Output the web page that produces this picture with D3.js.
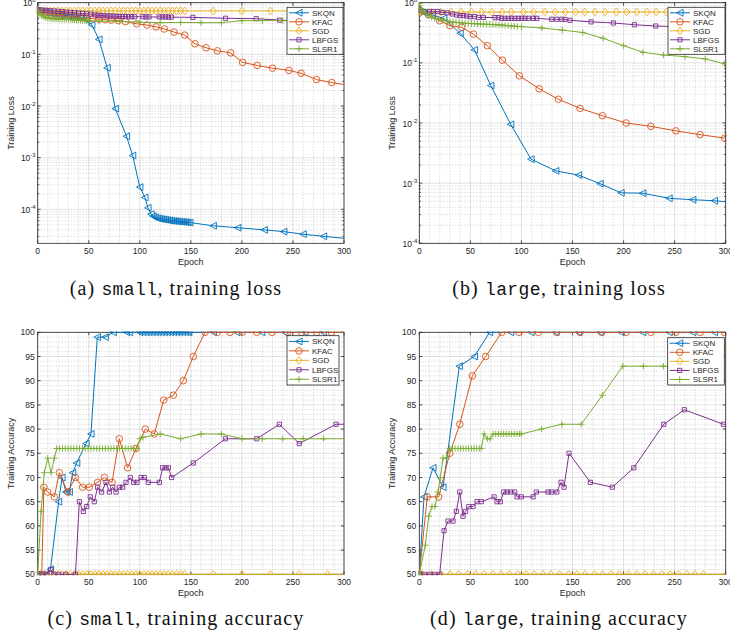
<!DOCTYPE html>
<html>
<head>
<meta charset="utf-8">
<script src="https://cdn.jsdelivr.net/npm/d3@7"></script>
<style>
  body { margin: 0; background: #fff; }
  svg { display: block; font-family: "Liberation Sans", Arial, Helvetica, sans-serif; }
</style>
</head>
<body>
<div id="chart"></div>
<script>
const methods = ['SKQN', 'KFAC', 'SGD', 'LBFGS', 'SLSR1'];
const methodColors = ['#0072BD', '#D95319', '#EDB120', '#7E2F8E', '#77AC30'];
const methodMarkers = ['<', 'o', 'd', 's', '+'];

const epochTicks = [0, 50, 100, 150, 200, 250, 300];
const lossTicks = [1e-4, 1e-3, 1e-2, 1e-1, 1];
const accTicks = [50, 55, 60, 65, 70, 75, 80, 85, 90, 95, 100];

// (a) small, training loss  -- [epoch, loss]
const smallLossSKQN = [[0,0.70],[3,0.68],[6,0.66],[9,0.645],[12,0.63],[15,0.61],[18,0.60],[21,0.59],[24,0.58],[27,0.57],[30,0.56],[33,0.55],[36,0.54],[39,0.53],[42,0.52],[45,0.50],[48,0.46],[53,0.37],[60,0.195],[68,0.055],[76,0.0089],[87,0.0026],[93,0.0011],[100,2.7e-4],[105,1.7e-4],[108,1.07e-4],[111,8.1e-5],[113,7.4e-5],[115,7.0e-5],[117,6.8e-5],[119,6.6e-5],[121,6.5e-5],[123,6.4e-5],[125,6.3e-5],[127,6.2e-5],[129,6.1e-5],[131,6.0e-5],[133,5.95e-5],[135,5.9e-5],[137,5.85e-5],[139,5.8e-5],[141,5.75e-5],[143,5.7e-5],[145,5.65e-5],[147,5.6e-5],[149,5.55e-5],[172,4.8e-5],[196,4.4e-5],[222,4.0e-5],[241,3.7e-5],[260,3.3e-5],[280,3.0e-5],[300,2.75e-5]];
const smallLossKFAC = [[0,0.70],[4,0.66],[8,0.63],[13,0.60],[18,0.58],[23,0.56],[28,0.54],[33,0.53],[38,0.52],[43,0.51],[48,0.50],[54,0.49],[60,0.48],[66,0.47],[72,0.46],[79,0.45],[86,0.43],[97,0.39],[107,0.37],[116,0.34],[124,0.31],[133.5,0.27],[144,0.236],[154,0.16],[165,0.134],[176,0.117],[189,0.107],[200.7,0.07],[215,0.061],[230,0.054],[246,0.049],[258,0.043],[273,0.0325],[288,0.0284],[300,0.026]];
const smallLossSGD = [[0,0.70],[4,0.695],[8,0.694],[12,0.693],[16,0.693],[20,0.693],[24,0.693],[28,0.693],[32,0.693],[36,0.693],[40,0.693],[44,0.693],[48,0.693],[52,0.693],[56,0.693],[60,0.693],[64,0.693],[68,0.693],[72,0.693],[76,0.693],[80,0.693],[84,0.693],[88,0.693],[92,0.693],[96,0.693],[100,0.693],[104,0.693],[108,0.693],[112,0.693],[116,0.693],[120,0.693],[124,0.693],[128,0.693],[132,0.693],[136,0.693],[140,0.693],[144,0.693],[172,0.693],[200,0.693],[228,0.693],[256,0.693],[284,0.693],[300,0.693]];
const smallLossLBFGS = [[0,0.74],[4,0.72],[8,0.71],[12,0.70],[16,0.69],[20,0.68],[24,0.67],[28,0.66],[32,0.65],[36,0.64],[40,0.63],[44,0.62],[48,0.61],[52,0.60],[56,0.58],[59,0.57],[62,0.565],[65,0.56],[68,0.555],[71,0.55],[74,0.55],[77,0.545],[80,0.54],[83,0.54],[86,0.54],[89,0.535],[92,0.535],[95,0.535],[103,0.535],[106,0.53],[109,0.53],[119,0.53],[122,0.53],[125,0.53],[128,0.525],[131,0.525],[152,0.52],[184,0.50],[214,0.49],[237,0.46],[262,0.44],[300,0.40]];
const smallLossSLSR1 = [[0,0.72],[2,0.62],[4,0.56],[6,0.53],[8,0.51],[10,0.50],[12,0.495],[14,0.49],[16,0.487],[18,0.485],[20,0.482],[22,0.48],[24,0.478],[26,0.476],[28,0.475],[30,0.473],[32,0.47],[34,0.468],[36,0.465],[38,0.462],[40,0.46],[42,0.458],[44,0.455],[46,0.453],[48,0.45],[50,0.448],[60,0.44],[80,0.435],[100,0.42],[120,0.41],[140,0.415],[160,0.41],[180,0.41],[200,0.45],[220,0.45],[240,0.45],[260,0.44],[280,0.43],[300,0.42]];

// (b) large, training loss
const largeLossSKQN = [[0,0.72],[5,0.68],[13,0.62],[24,0.55],[40,0.31],[54,0.164],[70,0.042],[89.5,0.0095],[109.4,0.0025],[133.6,0.0016],[156,0.00136],[177,0.00098],[197.6,0.00069],[218.8,0.00068],[244.6,0.00056],[267.8,0.00053],[289,0.00051],[300,0.00049]];
const largeLossKFAC = [[0,0.72],[9,0.625],[20,0.50],[30,0.415],[41.5,0.39],[53,0.30],[66.6,0.193],[81.3,0.111],[98,0.061],[117.3,0.037],[136.2,0.0248],[157.4,0.0175],[179.3,0.0132],[202.5,0.0100],[226.7,0.0088],[251.2,0.0074],[275,0.0064],[299,0.0056]];
const largeLossSGD = [[0,0.72],[2,0.70],[12,0.70],[21,0.70],[31,0.70],[41,0.70],[51,0.70],[61,0.70],[71,0.70],[81,0.70],[90,0.70],[102,0.70],[112,0.70],[123,0.70],[133,0.70],[143,0.70],[153,0.70],[162,0.70],[172,0.70],[182,0.70],[193,0.70],[203,0.70],[213,0.70],[223,0.70],[232,0.70],[242,0.70],[252,0.70],[262,0.70],[272,0.70],[282,0.70],[292,0.70],[300,0.70]];
const largeLossLBFGS = [[0,0.78],[4.9,0.71],[9.8,0.71],[13.7,0.71],[18,0.71],[22.5,0.69],[27.4,0.68],[32.4,0.65],[36.6,0.625],[39.9,0.61],[43.1,0.61],[46.4,0.60],[49.7,0.586],[53.9,0.586],[57.9,0.57],[62.7,0.57],[74.1,0.565],[77.4,0.565],[80.6,0.55],[83.9,0.55],[87.1,0.55],[90.4,0.55],[93.7,0.55],[97,0.55],[100.3,0.55],[103.5,0.55],[106.8,0.55],[111.6,0.55],[115,0.55],[129.7,0.53],[134.6,0.53],[139.5,0.53],[142.7,0.525],[147.6,0.51],[168.2,0.48],[190,0.46],[210.6,0.43],[231.5,0.41],[252,0.40],[273.3,0.39],[297.8,0.38],[300,0.38]];
const largeLossSLSR1 = [[0,0.98],[2,0.80],[4,0.72],[6,0.67],[9,0.62],[12,0.58],[15,0.55],[19,0.53],[23,0.515],[27,0.50],[30,0.48],[33,0.475],[36,0.47],[39,0.465],[42,0.46],[45,0.455],[48,0.452],[51,0.45],[54,0.447],[57,0.445],[60,0.442],[63,0.44],[66,0.437],[69,0.435],[72,0.432],[75,0.43],[78,0.427],[81,0.425],[84,0.42],[87,0.415],[90,0.41],[93,0.407],[96,0.404],[100,0.40],[120,0.38],[140,0.35],[160,0.32],[180,0.256],[200,0.193],[219,0.15],[239,0.135],[260,0.127],[280,0.116],[299,0.096]];

// (c) small, training accuracy -- [epoch, accuracy %]
const smallAccSKQN = [[0,50],[4,50],[8,50],[12.5,51],[20.5,65],[23.8,70],[27.7,67],[31,67],[34.3,71],[38.2,73],[47.3,77],[52.2,79],[58.4,99],[66.2,99],[74,100],[87,100],[90,100],[100,100],[103,100],[106,100],[109,100],[112,100],[115,100],[118,100],[121,100],[124,100],[127,100],[130,100],[133,100],[136,100],[139,100],[142,100],[145,100],[148,100],[172,100],[195,100],[219.4,100],[242,100],[261.8,100],[279.7,100],[300,100]];
const smallAccKFAC = [[0,50],[4,50],[6,68],[9.8,67],[16.3,66],[21.2,71],[29.4,67],[36.9,70],[44,68],[50.5,68],[58.7,69],[65.3,70],[72.8,69],[79.9,78],[88.1,72],[96.3,76],[105.4,80],[114.2,79],[123.4,86],[132.9,87],[142.6,90],[152.4,95],[163.9,100],[175.9,100],[188.3,100],[200.4,100],[214.5,100],[229.5,100],[244.8,100],[258.5,100],[273.3,100],[287.8,100],[300,100]];
const smallAccSGD = [[0,50],[4,50],[8,50],[12,50],[16,50],[20,50],[24,50],[28,50],[32,50],[36,50],[40,50],[44,50],[48,50],[52,50],[56,50],[60,50],[64,50],[68,50],[72,50],[76,50],[80,50],[84,50],[88,50],[92,50],[96,50],[100,50],[104,50],[108,50],[112,50],[116,50],[120,50],[124,50],[128,50],[132,50],[136,50],[140,50],[144,50],[172,50],[200,50],[228,50],[256,50],[284,50],[300,50]];
const smallAccLBFGS = [[0,50],[4.2,50],[8.9,50],[12.7,51],[15.8,50],[20.7,50],[27.2,50],[37,50],[40.8,65],[44.7,63],[48,64],[51.5,66],[55.4,65],[58.7,68],[62.6,67],[66.9,69],[70.2,67],[73.5,68],[76.7,67],[79.9,68],[83.2,68],[86.5,69],[90.7,70],[94,69],[97.3,69],[101.2,70],[104.4,70],[108.3,69],[119.1,69],[122.4,72],[125.6,72],[128,72],[131.2,70],[152.4,73],[183.8,78],[214.5,78],[236.7,81],[256.2,77],[292.2,81],[300,81]];
const smallAccSLSR1 = [[0,50],[3.3,63],[6.5,71],[9.8,74],[13.1,71],[16.3,74],[18.6,76],[21.4,76],[24.2,76],[27,76],[29.8,76],[32.6,76],[35.4,76],[38.2,76],[41,76],[43.8,76],[46.6,76],[49.4,76],[52.2,76],[55,76],[57.8,76],[60.6,76],[63.4,76],[66.2,76],[69,76],[71.8,76],[74.6,76],[77.4,76],[80.2,76],[83,76],[85.8,76],[88.6,76],[91.4,76],[94.2,76],[97,76],[100.2,78],[103,78.3],[120,79],[140,78],[160,79],[180,79],[200,78],[220,78],[240,78],[260,78],[280,78],[300,78]];

// (d) large, training accuracy
const largeAccSKQN = [[0,50],[4.6,66],[13.4,72],[23.2,68],[39.2,93],[53.9,95],[68.9,100],[89.5,100],[109.4,100],[133.6,100],[156,100],[177,100],[197.6,100],[218.8,100],[244.6,100],[267.8,100],[289,100],[300,100]];
const largeAccKFAC = [[0,50],[7.8,66],[19,66],[29.8,75],[39.6,81],[51.9,91],[65,95],[80.7,100],[97.6,100],[116.5,100],[134.5,100],[157.4,100],[178.6,100],[202.5,100],[226.7,100],[251.2,100],[275,100],[298.7,100]];
const largeAccSGD = [[0,50],[2.3,50],[12.1,50],[21.3,50],[30.1,50],[38.3,50],[47.1,50],[55.2,50],[63.4,50],[71.9,50],[80.1,50],[88.2,50],[96.4,50],[104.6,50],[112.7,50],[120.9,50],[129,50],[137.2,50],[146,50],[154.5,50],[162.3,50],[171.5,50],[179.3,50],[187.8,50],[195.6,50],[204.8,50],[212.9,50],[221.1,50],[229.3,50],[237.4,50],[245.6,50],[253.8,50],[261.9,50],[270.1,50],[278.3,50],[300,50]];
const largeAccLBFGS = [[0,50],[5.2,50],[10.1,50],[15,50],[19.9,50],[24.2,59],[28.1,61],[33,61],[36.3,63],[39.6,67],[42.8,62],[45.4,63],[48.4,64],[52.6,64],[56.5,65],[60.7,65],[73.2,66],[76.1,65],[79.3,65],[82.7,67],[86,67],[89.5,67],[93.4,67],[95.7,66],[99.9,66],[111.4,66],[114.6,67],[126,67],[129.7,67],[134.6,67],[138.8,69],[141.7,68],[146.6,75],[167.5,69],[189,68],[210,72],[239.4,81],[259.5,84],[297.7,81],[300,81]];
const largeAccSLSR1 = [[0,50],[5.9,56],[9.2,62],[12.4,64],[15.3,64],[18.3,67],[20.6,70],[23.2,74],[26.5,74],[29.8,76],[32.5,76],[35,76],[37.8,76],[40.5,76],[43,76],[45.7,76],[48.3,76],[51,76],[53.6,76],[56.2,76],[58.8,76],[60.7,76],[63.4,79],[66.6,78],[69.4,78],[72.2,79],[74.8,79],[77.4,79],[80,79],[82.6,79],[85.2,79],[87.8,79],[90.4,79],[93,79],[95.6,79],[98.2,79],[99.9,79],[119.5,80],[139.5,81],[158.6,81],[179.2,87],[199.2,93],[219.4,93],[239,93],[259.5,93],[279,93],[299,97]];

const panels = [
  { series: [smallLossSKQN, smallLossKFAC, smallLossSGD, smallLossLBFGS, smallLossSLSR1],
    x0: 37.7, x1: 344, yTop: 2.7, yBot: 243.3, log: true, domain: [2.2e-5, 1],
    yLabel: 'Training Loss', legend: [287, 7.3, 56, 47],
    caption: ['(a) ', 'small', ', training loss'], capX: 176, capY: 295 },
  { series: [largeLossSKQN, largeLossKFAC, largeLossSGD, largeLossLBFGS, largeLossSLSR1],
    x0: 419.3, x1: 725.7, yTop: 2.7, yBot: 243.3, log: true, domain: [1e-4, 1],
    yLabel: 'Training Loss', legend: [668, 7.3, 57, 47],
    caption: ['(b) ', 'large', ', training loss'], capX: 559, capY: 295 },
  { series: [smallAccSKQN, smallAccKFAC, smallAccSGD, smallAccLBFGS, smallAccSLSR1],
    x0: 37.7, x1: 344, yTop: 332.3, yBot: 574.3, log: false, domain: [50, 100],
    yLabel: 'Training Accuracy', legend: [287, 335.7, 52, 49.3],
    caption: ['(c) ', 'small', ', training accuracy'], capX: 176, capY: 625 },
  { series: [largeAccSKQN, largeAccKFAC, largeAccSGD, largeAccLBFGS, largeAccSLSR1],
    x0: 419.3, x1: 725.7, yTop: 332.3, yBot: 574.3, log: false, domain: [50, 100],
    yLabel: 'Training Accuracy', legend: [667.7, 337.7, 56.6, 47.3],
    caption: ['(d) ', 'large', ', training accuracy'], capX: 559, capY: 625 },
];

const W = 730, H = 641;
const axisColor = '#262626';

const svg = d3.select('#chart').append('svg')
  .attr('width', W).attr('height', H).attr('viewBox', `0 0 ${W} ${H}`);

function markerPath(type) {
  switch (type) {
    case '<': return 'M-3.4,0L3.1,-3.4L3.1,3.4Z';
    case 'o': return 'M3.3,0A3.3,3.3 0 1,1 -3.3,0A3.3,3.3 0 1,1 3.3,0Z';
    case 'd': return 'M0,-3.8L3.1,0L0,3.8L-3.1,0Z';
    case 's': return 'M-2.1,-2.1H2.1V2.1H-2.1Z';
    case '+': return 'M-3.2,0H3.2M0,-3.2V3.2';
  }
}

panels.forEach((p, pi) => {
  const x = d3.scaleLinear().domain([0, 300]).range([p.x0, p.x1]);
  const y = (p.log ? d3.scaleLog() : d3.scaleLinear()).domain(p.domain).range([p.yBot, p.yTop]);
  const g = svg.append('g');
  const w = p.x1 - p.x0, h = p.yBot - p.yTop;

  // minor grid
  const xMinor = d3.range(0, 301, 10).filter(v => v % 50 !== 0);
  const yMinor = p.log
    ? y.ticks().filter(v => Math.abs(Math.log10(v) - Math.round(Math.log10(v))) > 1e-6)
    : d3.range(50, 101, 1).filter(v => v % 5 !== 0);
  const yMajor = p.log ? lossTicks : accTicks;

  const grid = g.append('g').attr('fill', 'none');
  grid.selectAll('line.xmin').data(xMinor).join('line')
    .attr('x1', d => x(d)).attr('x2', d => x(d)).attr('y1', p.yTop).attr('y2', p.yBot)
    .attr('stroke', axisColor).attr('stroke-opacity', 0.22).attr('stroke-dasharray', '1,2');
  grid.selectAll('line.ymin').data(yMinor).join('line')
    .attr('y1', d => y(d)).attr('y2', d => y(d)).attr('x1', p.x0).attr('x2', p.x1)
    .attr('stroke', axisColor).attr('stroke-opacity', 0.22).attr('stroke-dasharray', '1,2');
  grid.selectAll('line.xmaj').data(epochTicks).join('line')
    .attr('x1', d => x(d)).attr('x2', d => x(d)).attr('y1', p.yTop).attr('y2', p.yBot)
    .attr('stroke', axisColor).attr('stroke-opacity', 0.13);
  grid.selectAll('line.ymaj').data(yMajor).join('line')
    .attr('y1', d => y(d)).attr('y2', d => y(d)).attr('x1', p.x0).attr('x2', p.x1)
    .attr('stroke', axisColor).attr('stroke-opacity', 0.13);

  // box + ticks
  g.append('rect').attr('x', p.x0).attr('y', p.yTop).attr('width', w).attr('height', h)
    .attr('fill', 'none').attr('stroke', axisColor).attr('stroke-width', 0.8);
  const tk = g.append('g').attr('stroke', axisColor).attr('stroke-width', 0.8);
  epochTicks.forEach(v => {
    tk.append('line').attr('x1', x(v)).attr('x2', x(v)).attr('y1', p.yBot).attr('y2', p.yBot - 3);
    tk.append('line').attr('x1', x(v)).attr('x2', x(v)).attr('y1', p.yTop).attr('y2', p.yTop + 3);
  });
  yMajor.forEach(v => {
    tk.append('line').attr('y1', y(v)).attr('y2', y(v)).attr('x1', p.x0).attr('x2', p.x0 + 3);
    tk.append('line').attr('y1', y(v)).attr('y2', y(v)).attr('x1', p.x1).attr('x2', p.x1 - 3);
  });
  if (p.log) {
    yMinor.forEach(v => {
      tk.append('line').attr('y1', y(v)).attr('y2', y(v)).attr('x1', p.x0).attr('x2', p.x0 + 1.6);
      tk.append('line').attr('y1', y(v)).attr('y2', y(v)).attr('x1', p.x1).attr('x2', p.x1 - 1.6);
    });
  }

  // tick labels
  const lab = g.append('g').attr('fill', axisColor).attr('font-size', 8.5);
  epochTicks.forEach(v => {
    lab.append('text').attr('x', x(v)).attr('y', p.yBot + 10.5).attr('text-anchor', 'middle').text(v);
  });
  yMajor.forEach(v => {
    if (p.log) {
      const t = lab.append('text').attr('x', p.x0 - 2).attr('y', y(v) + 3.5).attr('text-anchor', 'end');
      t.append('tspan').text('10');
      t.append('tspan').attr('dy', -4).attr('font-size', 6).text(Math.round(Math.log10(v)) === 0 ? '0' : Math.round(Math.log10(v)));
    } else {
      lab.append('text').attr('x', p.x0 - 3).attr('y', y(v) + 3).attr('text-anchor', 'end').text(v);
    }
  });
  lab.append('text').attr('x', (p.x0 + p.x1) / 2).attr('y', p.yBot + 21.5)
    .attr('text-anchor', 'middle').attr('font-size', 9).text('Epoch');
  lab.append('text')
    .attr('transform', `translate(${p.x0 - 24},${(p.yTop + p.yBot) / 2}) rotate(-90)`)
    .attr('text-anchor', 'middle').attr('font-size', 9).text(p.yLabel);

  // data
  const clipId = `clip${pi}`;
  svg.append('clipPath').attr('id', clipId).append('rect')
    .attr('x', p.x0 - 1).attr('y', p.yTop - 1).attr('width', w + 2).attr('height', h + 2);
  const plot = g.append('g').attr('clip-path', `url(#${clipId})`);
  const line = d3.line().x(d => x(d[0])).y(d => y(d[1]));
  p.series.forEach((data, si) => {
    const sg = plot.append('g').attr('stroke', methodColors[si]).attr('fill', 'none');
    sg.append('path').attr('d', line(data)).attr('stroke-width', 1);
    sg.selectAll('path.m').data(data.filter(d => d[0] < 300)).join('path')
      .attr('class', 'm')
      .attr('transform', d => `translate(${x(d[0])},${y(d[1])})`)
      .attr('d', markerPath(methodMarkers[si]))
      .attr('stroke-width', 0.9);
  });

  // legend
  const [lx, ly, lw, lh] = p.legend;
  const lg = g.append('g');
  lg.append('rect').attr('x', lx).attr('y', ly).attr('width', lw).attr('height', lh)
    .attr('fill', '#fff').attr('stroke', axisColor).attr('stroke-width', 0.8);
  const rowH = (lh - 2) / 5;
  methods.forEach((m, i) => {
    const cy = ly + 1 + rowH * (i + 0.5);
    lg.append('line').attr('x1', lx + 2).attr('x2', lx + 22).attr('y1', cy).attr('y2', cy)
      .attr('stroke', methodColors[i]).attr('stroke-width', 1);
    lg.append('path').attr('transform', `translate(${lx + 12},${cy})`)
      .attr('d', markerPath(methodMarkers[i])).attr('fill', 'none')
      .attr('stroke', methodColors[i]).attr('stroke-width', 0.9);
    lg.append('text').attr('x', lx + 25).attr('y', cy + 2.8).attr('font-size', 8)
      .attr('fill', axisColor).text(m);
  });

  // caption
  const cap = svg.append('text').attr('x', p.capX).attr('y', p.capY).attr('text-anchor', 'middle')
    .attr('font-family', '"Liberation Serif", "Times New Roman", serif').attr('font-size', 20)
    .attr('letter-spacing', 1.1).attr('fill', '#111');
  cap.append('tspan').text(p.caption[0]);
  cap.append('tspan').attr('font-family', '"Liberation Mono", "DejaVu Sans Mono", monospace')
    .attr('font-size', 18).attr('letter-spacing', 0.4).text(p.caption[1]);
  cap.append('tspan').text(p.caption[2]);
});
</script>
</body>
</html>
